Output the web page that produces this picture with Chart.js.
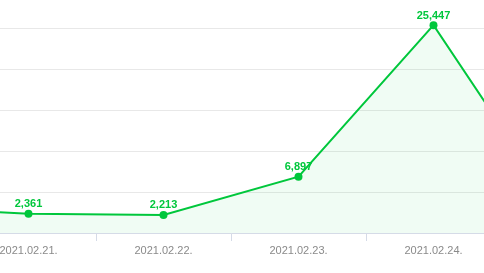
<!DOCTYPE html>
<html>
<head>
<meta charset="utf-8">
<script src="https://cdn.jsdelivr.net/npm/chart.js@4/dist/chart.umd.min.js"></script>
<style>
  html, body { margin: 0; padding: 0; background: #fff; }
  #wrap { position: relative; width: 484px; height: 273px; overflow: hidden; }
  #chart { position: absolute; left: -174px; top: -12px; }
</style>
</head>
<body>
<div id="wrap"><canvas id="chart" width="810" height="285"></canvas></div>
<script>
// days shown (first and last sit outside the visible crop)
const days = ['2021.02.20.', '2021.02.21.', '2021.02.22.', '2021.02.23.', '2021.02.24.', '2021.02.25.'];
const counts = [3200, 2361, 2213, 6897, 25447, 700];
const yTicks = [0, 5000, 10000, 15000, 20000, 25000, 30000];

const green = '#00c73c';

// value labels above each point
const valueLabels = {
  id: 'valueLabels',
  afterDatasetsDraw(chart) {
    const ctx = chart.ctx;
    const meta = chart.getDatasetMeta(0);
    ctx.save();
    ctx.font = 'bold 11px "Liberation Sans", Arial, sans-serif';
    ctx.fillStyle = green;
    ctx.textAlign = 'center';
    ctx.textBaseline = 'bottom';
    meta.data.forEach((pt, i) => {
      ctx.fillText(counts[i].toLocaleString('en-US'), pt.x, pt.y - 4);
    });
    ctx.restore();
  }
};

new Chart(document.getElementById('chart'), {
  type: 'line',
  data: {
    labels: days,
    datasets: [{
      data: counts,
      borderColor: green,
      borderWidth: 2,
      backgroundColor: 'rgba(0, 199, 60, 0.06)',
      fill: 'origin',
      tension: 0,
      pointRadius: 4,
      pointBackgroundColor: green,
      pointBorderColor: green,
      pointBorderWidth: 0,
      clip: false
    }]
  },
  options: {
    responsive: false,
    animation: false,
    devicePixelRatio: 1,
    layout: { padding: 0, autoPadding: false },
    plugins: { legend: { display: false }, tooltip: { enabled: false } },
    scales: {
      x: {
        offset: true,
        grid: { offset: true, drawOnChartArea: false, drawTicks: true, tickLength: 8, color: '#d5dbe7' },
        border: { color: '#d5dbe7', width: 1 },
        ticks: {
          color: '#8a8a8a',
          padding: 3,
          maxRotation: 0,
          font: { family: '"Liberation Sans", Arial, sans-serif', size: 11 }
        },
        afterFit: s => { s.height = 40; }
      },
      y: {
        min: 0,
        max: 30000,
        afterBuildTicks: s => { s.ticks = yTicks.map(v => ({ value: v })); },
        grid: { color: '#e8e8e8', drawTicks: false },
        border: { display: false },
        ticks: { display: false },
        afterFit: s => { s.width = 0; }
      }
    }
  },
  plugins: [valueLabels]
});
</script>
</body>
</html>
